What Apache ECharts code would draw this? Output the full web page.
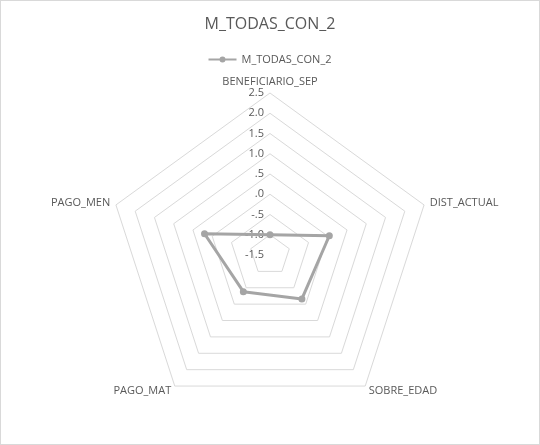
<!DOCTYPE html>
<html>
<head>
<meta charset="utf-8">
<script src="https://cdn.jsdelivr.net/npm/echarts@6/dist/echarts.min.js"></script>
<style>
html,body{margin:0;padding:0;background:#fff;}
#c{width:540px;height:445px;box-sizing:border-box;border:1px solid #d9d9d9;}
</style>
</head>
<body>
<div id="c"></div>
<script>
const title = 'M_TODAS_CON_2';
const seriesName = 'M_TODAS_CON_2';
// clockwise order, starting at the top
const indicators = ['BENEFICIARIO_SEP', 'DIST_ACTUAL', 'SOBRE_EDAD', 'PAGO_MAT', 'PAGO_MEN'];
const values = [-1.0, 0.04, -0.16, -0.38, 0.2];
const axisMin = -1.5;
const axisMax = 2.5;
const tickLabels = ['-1.5', '-1.0', '-.5', '.0', '.5', '1.0', '1.5', '2.0', '2.5'];

// ECharts lays indicators counter-clockwise; reorder to draw clockwise
const order = [0, 4, 3, 2, 1];
const ecIndicators = order.map(i => indicators[i]);
const ecValues = order.map(i => values[i]);

const FONT = 'Open Sans, sans-serif';
const chart = echarts.init(document.getElementById('c'), null, {renderer: 'canvas'});
const legendIcon = 'path://M0,3h28v2H0z M11,4a3,3 0 1,1 6,0a3,3 0 1,1 -6,0z';

chart.setOption({
  animation: false,
  backgroundColor: '#fff',
  title: {
    text: title, left: 'center', top: 10,
    textStyle: {fontFamily: FONT, fontSize: 16, fontWeight: 'normal', color: '#595959'}
  },
  legend: {
    top: 48, left: 'center',
    itemWidth: 28, itemHeight: 6, itemGap: 2,
    icon: legendIcon,
    itemStyle: {color: '#a5a5a5', borderWidth: 0},
    textStyle: {fontFamily: FONT, fontSize: 11, color: '#595959'},
    data: [seriesName]
  },
  radar: {
    center: [269, 254],
    radius: 162,
    shape: 'polygon',
    startAngle: 90,
    splitNumber: 8,
    nameGap: 6,
    axisName: {fontFamily: FONT, fontSize: 11, color: '#595959'},
    axisLine: {show: false},
    axisTick: {show: false},
    splitArea: {show: false},
    splitLine: {lineStyle: {color: '#d9d9d9', width: 1}},
    axisLabel: {show: false},
    indicator: ecIndicators.map((n, i) => {
      const o = {name: n, min: axisMin, max: axisMax};
      if (i === 0) {
        o.axisLabel = {
          show: true, fontFamily: FONT, fontSize: 11, color: '#595959', margin: 6,
          formatter: (v) => {
            const idx = Math.round((v - axisMin) / 0.5);
            return tickLabels[idx] !== undefined ? tickLabels[idx] : '';
          }
        };
      }
      return o;
    })
  },
  series: [{
    type: 'radar',
    name: seriesName,
    symbol: 'circle',
    symbolSize: 7,
    lineStyle: {color: '#a5a5a5', width: 3},
    itemStyle: {color: '#a5a5a5'},
    data: [{value: ecValues, name: seriesName}]
  }]
});
</script>
</body>
</html>
